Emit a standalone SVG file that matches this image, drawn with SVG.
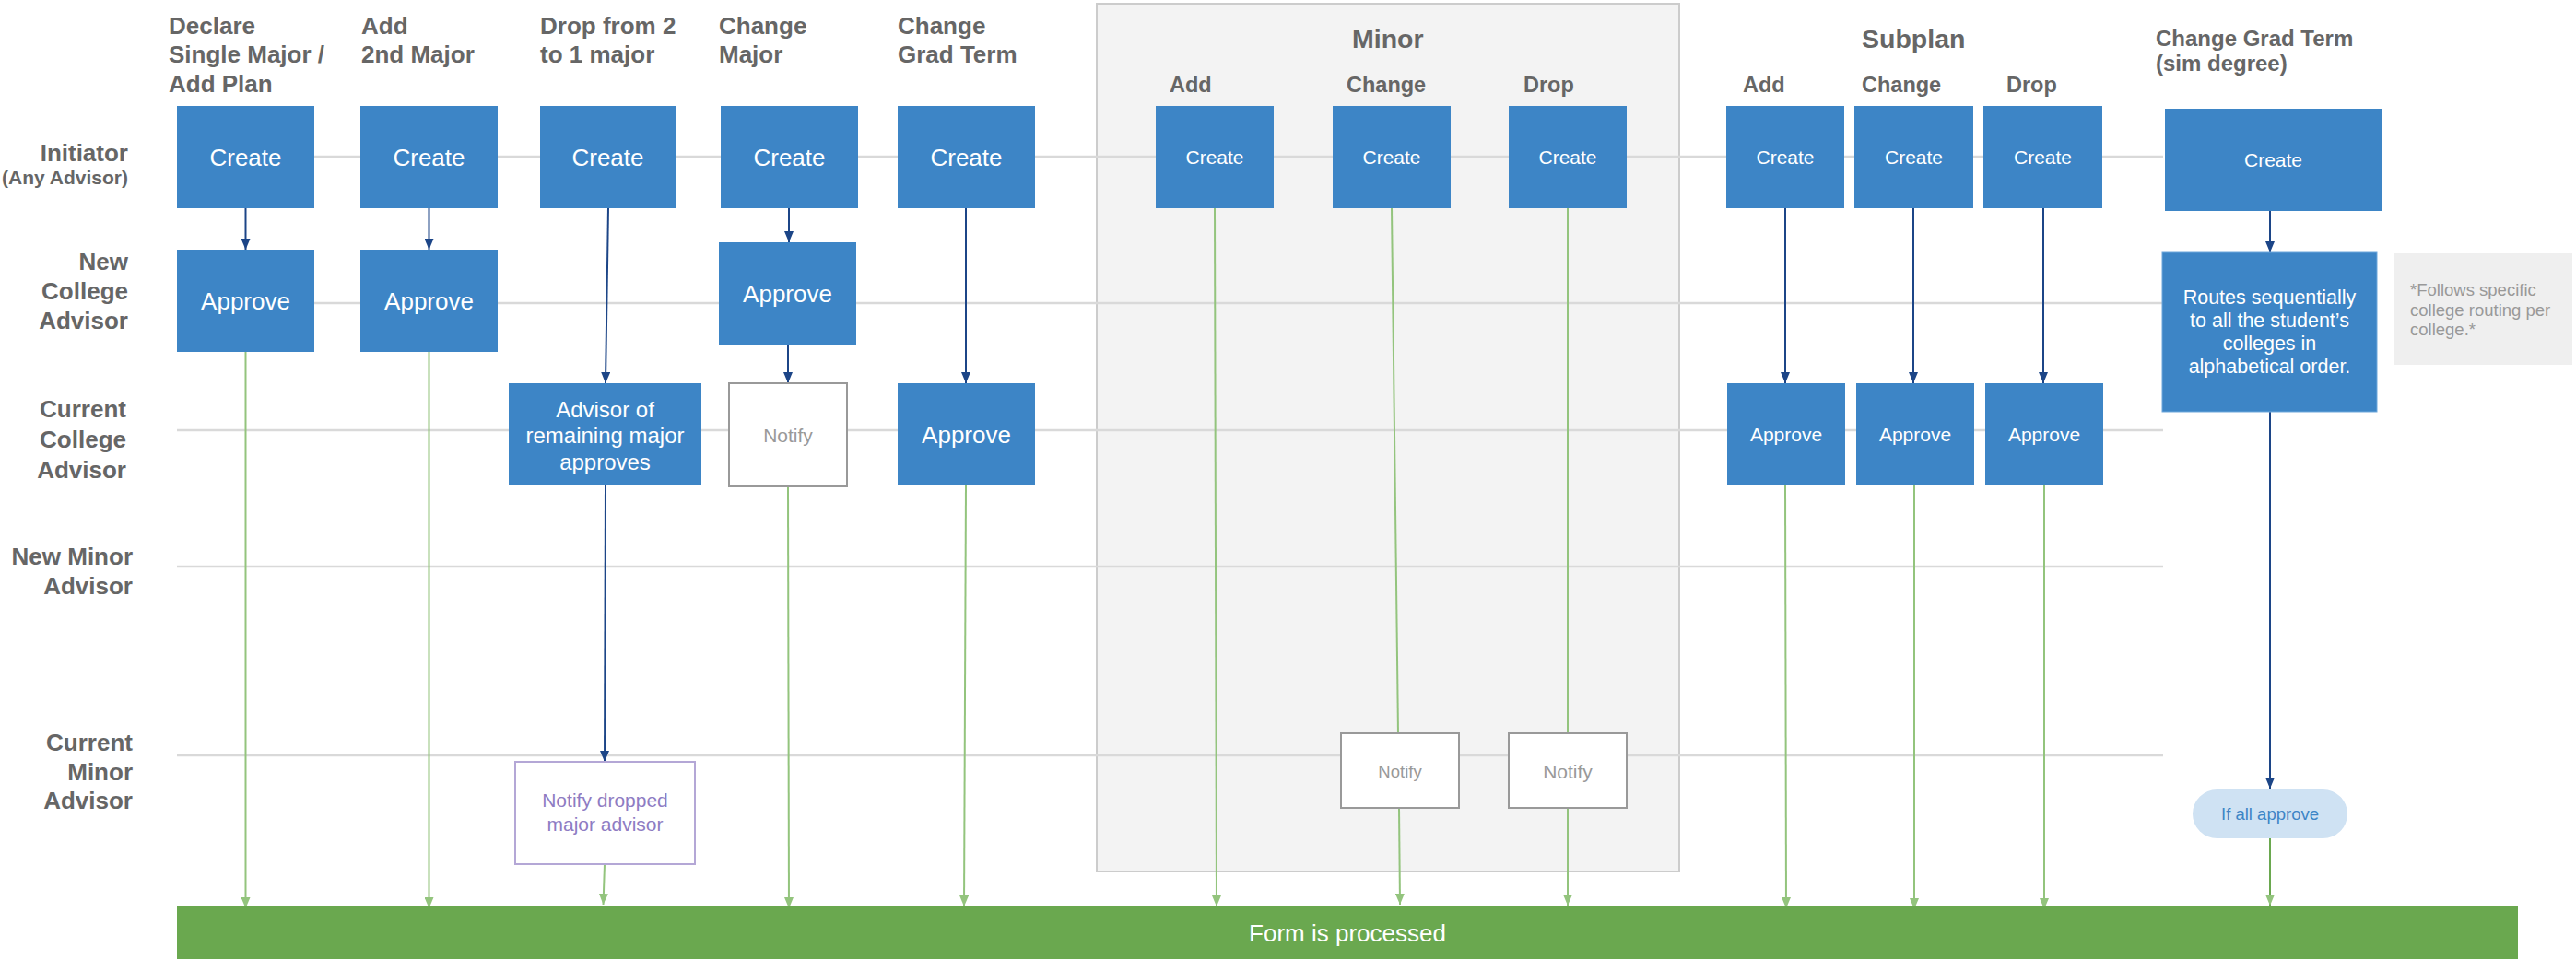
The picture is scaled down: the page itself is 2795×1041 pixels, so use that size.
<svg xmlns="http://www.w3.org/2000/svg" width="2795" height="1041" viewBox="0 0 2795 1041">
<defs>
<style>
text{font-family:"Liberation Sans",Arial,sans-serif}
.hdr{font-size:26px;font-weight:bold;fill:#666}
.sub{font-size:23.5px;font-weight:bold;fill:#666}
.grp{font-size:28.5px;font-weight:bold;fill:#666}
.lbl{font-size:26px;font-weight:bold;fill:#666;text-anchor:end}
.box{fill:#3d85c6}
.wt{fill:#fff;text-anchor:middle}
.t26{font-size:26px}
.t24{font-size:24px}
.t21{font-size:21px}
.grid{stroke:#d9d9d9;stroke-width:2.5}
.cb{stroke:#1c4587;stroke-width:2;fill:none}
.cg{stroke:#93c47d;stroke-width:2;fill:none}
.ntf{fill:#fff;stroke:#999;stroke-width:2}
.ntt{fill:#999;text-anchor:middle}
</style>
<marker id="ab" viewBox="0 0 12 10" refX="12" refY="5" markerWidth="12" markerHeight="10" markerUnits="userSpaceOnUse" orient="auto"><path d="M0,0L12,5L0,10z" fill="#1c4587"/></marker>
<marker id="ag" viewBox="0 0 12 10" refX="12" refY="5" markerWidth="12" markerHeight="10" markerUnits="userSpaceOnUse" orient="auto"><path d="M0,0L12,5L0,10z" fill="#93c47d"/></marker>
</defs>
<rect width="2795" height="1041" fill="#fff"/>

<g id="minor-group">
<rect x="1190" y="4" width="632" height="942" fill="#f3f3f3" stroke="#cccccc" stroke-width="2"/>
</g>

<g id="lanes">
<line class="grid" x1="192" y1="170" x2="2347" y2="170"/>
<line class="grid" x1="192" y1="329" x2="2347" y2="329"/>
<line class="grid" x1="192" y1="467" x2="2347" y2="467"/>
<line class="grid" x1="192" y1="615" x2="2347" y2="615"/>
<line class="grid" x1="192" y1="820" x2="2347" y2="820"/>
</g>

<g id="row-labels">
<text class="lbl" x="139" y="175">Initiator</text>
<text class="lbl" x="139" y="200" style="font-size:21px">(Any Advisor)</text>
<text class="lbl" x="139" y="293">New</text>
<text class="lbl" x="139" y="325">College</text>
<text class="lbl" x="139" y="357">Advisor</text>
<text class="lbl" x="137" y="453">Current</text>
<text class="lbl" x="137" y="486">College</text>
<text class="lbl" x="137" y="519">Advisor</text>
<text class="lbl" x="144" y="613">New Minor</text>
<text class="lbl" x="144" y="645">Advisor</text>
<text class="lbl" x="144" y="815">Current</text>
<text class="lbl" x="144" y="847">Minor</text>
<text class="lbl" x="144" y="878">Advisor</text>
</g>

<g id="column-headers">
<text class="hdr" x="183" y="37">Declare</text>
<text class="hdr" x="183" y="68">Single Major /</text>
<text class="hdr" x="183" y="100">Add Plan</text>
<text class="hdr" x="392" y="37">Add</text>
<text class="hdr" x="392" y="68">2nd Major</text>
<text class="hdr" x="586" y="37">Drop from 2</text>
<text class="hdr" x="586" y="68">to 1 major</text>
<text class="hdr" x="780" y="37">Change</text>
<text class="hdr" x="780" y="68">Major</text>
<text class="hdr" x="974" y="37">Change</text>
<text class="hdr" x="974" y="68">Grad Term</text>
<text class="grp" x="1467" y="52">Minor</text>
<text class="sub" x="1269" y="100">Add</text>
<text class="sub" x="1461" y="100">Change</text>
<text class="sub" x="1653" y="100">Drop</text>
<text class="grp" x="2020" y="52">Subplan</text>
<text class="sub" x="1891" y="100">Add</text>
<text class="sub" x="2020" y="100">Change</text>
<text class="sub" x="2177" y="100">Drop</text>
<text class="sub" x="2339" y="50" style="font-size:24px">Change Grad Term</text>
<text class="sub" x="2339" y="77" style="font-size:24px">(sim degree)</text>
</g>

<g id="connectors">
<path class="cb" d="M266.5,226V271" marker-end="url(#ab)"/>
<path class="cg" d="M266.5,382V986" marker-end="url(#ag)"/>
<path class="cb" d="M465.5,226V271" marker-end="url(#ab)"/>
<path class="cg" d="M465.5,382V986" marker-end="url(#ag)"/>
<path class="cb" d="M660,226L657,416" marker-end="url(#ab)"/>
<path class="cb" d="M657,527L656,827" marker-end="url(#ab)"/>
<path class="cg" d="M656,938L654.5,982" marker-end="url(#ag)"/>
<path class="cb" d="M856,226V263" marker-end="url(#ab)"/>
<path class="cb" d="M855,374V416" marker-end="url(#ab)"/>
<path class="cg" d="M855,528L856,986" marker-end="url(#ag)"/>
<path class="cb" d="M1048,226V416" marker-end="url(#ab)"/>
<path class="cg" d="M1048,527L1046,984" marker-end="url(#ag)"/>
<path class="cg" d="M1318,226L1320,984" marker-end="url(#ag)"/>
<path class="cg" d="M1510,226L1517,796"/>
<path class="cg" d="M1518,877L1519,982" marker-end="url(#ag)"/>
<path class="cg" d="M1701,226V796"/>
<path class="cg" d="M1701,877V983" marker-end="url(#ag)"/>
<path class="cb" d="M1937,226V416" marker-end="url(#ab)"/>
<path class="cg" d="M1937,527L1938,986" marker-end="url(#ag)"/>
<path class="cb" d="M2076,226V416" marker-end="url(#ab)"/>
<path class="cg" d="M2077,527V987" marker-end="url(#ag)"/>
<path class="cb" d="M2217,226V416" marker-end="url(#ab)"/>
<path class="cg" d="M2218,527V987" marker-end="url(#ag)"/>
<path class="cb" d="M2463,229V274" marker-end="url(#ab)"/>
<path class="cb" d="M2463,447V856" marker-end="url(#ab)"/>
<path class="cg" d="M2463,910V983" marker-end="url(#ag)" style="stroke:#6aa84f"/>
</g>

<g id="declare-create"><rect class="box" x="192" y="115" width="149" height="111"/><text class="wt t26" x="266.5" y="180">Create</text></g>
<g id="declare-approve"><rect class="box" x="192" y="271" width="149" height="111"/><text class="wt t26" x="266.5" y="336">Approve</text></g>
<g id="add2-create"><rect class="box" x="391" y="115" width="149" height="111"/><text class="wt t26" x="465.5" y="180">Create</text></g>
<g id="add2-approve"><rect class="box" x="391" y="271" width="149" height="111"/><text class="wt t26" x="465.5" y="336">Approve</text></g>
<g id="drop-create"><rect class="box" x="586" y="115" width="147" height="111"/><text class="wt t26" x="659.5" y="180">Create</text></g>
<g id="drop-advisor"><rect class="box" x="552" y="416" width="209" height="111"/>
<text class="wt t24" x="656.5" y="453">Advisor of</text>
<text class="wt t24" x="656.5" y="481">remaining major</text>
<text class="wt t24" x="656.5" y="510">approves</text></g>
<g id="drop-notify"><rect x="559" y="827" width="195" height="111" fill="#fff" stroke="#b4a7d6" stroke-width="2"/>
<text class="t21" x="656.5" y="876" fill="#8e7cc3" text-anchor="middle">Notify dropped</text>
<text class="t21" x="656.5" y="902" fill="#8e7cc3" text-anchor="middle">major advisor</text></g>
<g id="change-create"><rect class="box" x="782" y="115" width="149" height="111"/><text class="wt t26" x="856.5" y="180">Create</text></g>
<g id="change-approve"><rect class="box" x="780" y="263" width="149" height="111"/><text class="wt t26" x="854.5" y="328">Approve</text></g>
<g id="change-notify"><rect class="ntf" x="791" y="416" width="128" height="112"/><text class="ntt t21" x="855" y="480">Notify</text></g>
<g id="grad-create"><rect class="box" x="974" y="115" width="149" height="111"/><text class="wt t26" x="1048.5" y="180">Create</text></g>
<g id="grad-approve"><rect class="box" x="974" y="416" width="149" height="111"/><text class="wt t26" x="1048.5" y="481">Approve</text></g>
<g id="minor-add-create"><rect class="box" x="1254" y="115" width="128" height="111"/><text class="wt t21" x="1318" y="178">Create</text></g>
<g id="minor-change-create"><rect class="box" x="1446" y="115" width="128" height="111"/><text class="wt t21" x="1510" y="178">Create</text></g>
<g id="minor-change-notify"><rect class="ntf" x="1455" y="796" width="128" height="81"/><text class="ntt" x="1519" y="844" style="font-size:18.5px">Notify</text></g>
<g id="minor-drop-create"><rect class="box" x="1637" y="115" width="128" height="111"/><text class="wt t21" x="1701" y="178">Create</text></g>
<g id="minor-drop-notify"><rect class="ntf" x="1637" y="796" width="128" height="81"/><text class="ntt t21" x="1701" y="845">Notify</text></g>
<g id="sub-add-create"><rect class="box" x="1873" y="115" width="128" height="111"/><text class="wt t21" x="1937" y="178">Create</text></g>
<g id="sub-add-approve"><rect class="box" x="1874" y="416" width="128" height="111"/><text class="wt t21" x="1938" y="479">Approve</text></g>
<g id="sub-change-create"><rect class="box" x="2012" y="115" width="129" height="111"/><text class="wt t21" x="2076.5" y="178">Create</text></g>
<g id="sub-change-approve"><rect class="box" x="2014" y="416" width="128" height="111"/><text class="wt t21" x="2078" y="479">Approve</text></g>
<g id="sub-drop-create"><rect class="box" x="2152" y="115" width="129" height="111"/><text class="wt t21" x="2216.5" y="178">Create</text></g>
<g id="sub-drop-approve"><rect class="box" x="2154" y="416" width="128" height="111"/><text class="wt t21" x="2218" y="479">Approve</text></g>
<g id="sim-create"><rect class="box" x="2349" y="118" width="235" height="111"/><text class="wt t21" x="2466.5" y="181">Create</text></g>
<g id="sim-routes"><rect class="box" x="2346" y="274" width="233" height="173" stroke="#6fa8dc" stroke-width="1"/>
<text class="wt" x="2462.5" y="330" style="font-size:21.5px">Routes sequentially</text>
<text class="wt" x="2462.5" y="355" style="font-size:21.5px">to all the student’s</text>
<text class="wt" x="2462.5" y="380" style="font-size:21.5px">colleges in</text>
<text class="wt" x="2462.5" y="405" style="font-size:21.5px">alphabetical order.</text></g>
<g id="sim-note"><rect x="2598" y="275" width="193" height="121" fill="#efefef"/>
<text x="2615" y="321" fill="#999" style="font-size:18.5px">*Follows specific</text>
<text x="2615" y="343" fill="#999" style="font-size:18.5px">college routing per</text>
<text x="2615" y="364" fill="#999" style="font-size:18.5px">college.*</text></g>
<g id="sim-if-all"><rect x="2379" y="857" width="168" height="53" rx="26.5" fill="#cfe2f3"/><text x="2463" y="890" fill="#3d85c6" text-anchor="middle" style="font-size:18.5px">If all approve</text></g>
<g id="form-processed"><rect x="192" y="983" width="2540" height="58" fill="#6aa84f"/><text class="wt t26" x="1462" y="1022">Form is processed</text></g>
</svg>
